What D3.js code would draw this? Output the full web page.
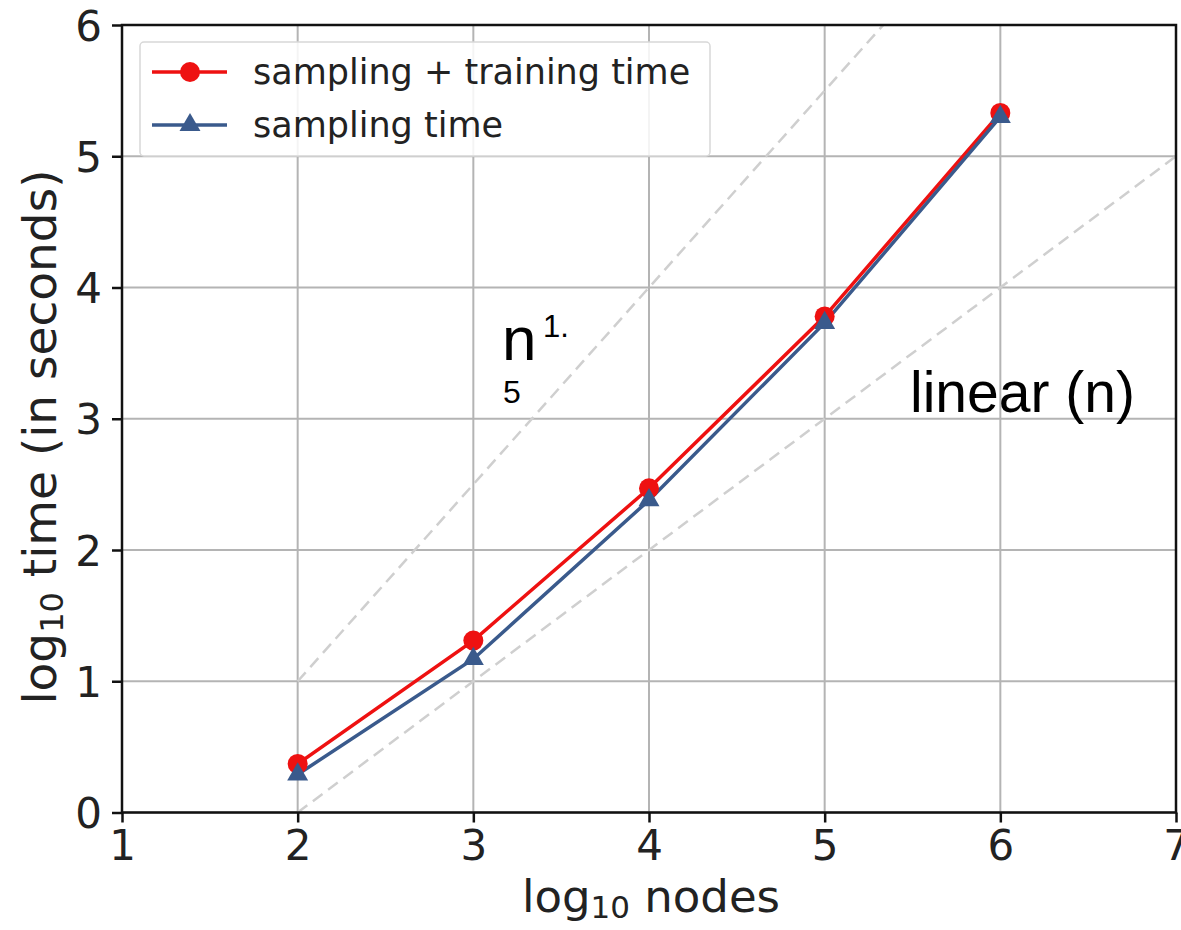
<!DOCTYPE html>
<html>
<head>
<meta charset="utf-8">
<script src="https://cdn.jsdelivr.net/npm/d3@7"></script>
<style>
  body { margin: 0; background: #fff; }
  svg { display: block; }
  .tick text { font-family: "DejaVu Sans", sans-serif; font-size: 42px; fill: #222; }
</style>
</head>
<body>
<div id="chart"></div>
<script>
// data
const nodes = [2, 3, 4, 5, 6];
const sampTrain = [0.37, 1.31, 2.47, 3.78, 5.33];
const sampOnly = [0.29, 1.17, 2.38, 3.73, 5.30];
const xTicks = [1, 2, 3, 4, 5, 6, 7];
const yTicks = [0, 1, 2, 3, 4, 5, 6];
// guide lines: n^1.5 and linear n
const guide15 = [[2, 1], [4, 4], [6, 7]];
const guideLin = [[2, 0], [7, 5]];

const W = 1181, H = 930;
const M = { left: 122, right: 1176, top: 25, bottom: 812.5 };

const svg = d3.select('#chart').append('svg')
  .attr('width', W).attr('height', H);

const x = d3.scaleLinear().domain([1, 7]).range([M.left, M.right]);
const y = d3.scaleLinear().domain([0, 6]).range([M.bottom, M.top]);

svg.append('clipPath').attr('id', 'clip')
  .append('rect')
  .attr('x', M.left).attr('y', M.top)
  .attr('width', M.right - M.left).attr('height', M.bottom - M.top);

// grid
const grid = svg.append('g');
grid.selectAll('.gx').data(xTicks).enter().append('line')
  .attr('x1', d => x(d)).attr('x2', d => x(d))
  .attr('y1', M.top).attr('y2', M.bottom)
  .attr('stroke', '#b4b4b4').attr('stroke-width', 2);
grid.selectAll('.gy').data(yTicks).enter().append('line')
  .attr('x1', M.left).attr('x2', M.right)
  .attr('y1', d => y(d)).attr('y2', d => y(d))
  .attr('stroke', '#b4b4b4').attr('stroke-width', 2);

// dashed guides
const line = d3.line().x(d => x(d[0])).y(d => y(d[1]));
const guides = svg.append('g').attr('clip-path', 'url(#clip)');
[guide15, guideLin].forEach(g => {
  guides.append('path').attr('d', line(g))
    .attr('fill', 'none').attr('stroke', '#cfcfcf')
    .attr('stroke-width', 2.5).attr('stroke-dasharray', '12,7');
});

// series
const RED = '#ee1111', BLUE = '#3a5a8c';
const pts = v => nodes.map((n, i) => [n, v[i]]);

svg.append('path').attr('d', line(pts(sampTrain)))
  .attr('fill', 'none').attr('stroke', RED).attr('stroke-width', 3.5);
svg.append('path').attr('d', line(pts(sampOnly)))
  .attr('fill', 'none').attr('stroke', BLUE).attr('stroke-width', 3.5);

const tri = d3.symbol().type(d3.symbolTriangle).size(190);
svg.selectAll('.m1').data(pts(sampTrain)).enter().append('circle')
  .attr('cx', d => x(d[0])).attr('cy', d => y(d[1])).attr('r', 10)
  .attr('fill', RED);
svg.selectAll('.m2').data(pts(sampOnly)).enter().append('path')
  .attr('d', tri)
  .attr('transform', d => 'translate(' + x(d[0]) + ',' + y(d[1]) + ')')
  .attr('fill', BLUE);

// axes
const xAxis = svg.append('g')
  .attr('transform', 'translate(0,' + M.bottom + ')')
  .call(d3.axisBottom(x).tickValues(xTicks).tickSize(10).tickPadding(8).tickFormat(d3.format('d')));
const yAxis = svg.append('g')
  .attr('transform', 'translate(' + M.left + ',0)')
  .call(d3.axisLeft(y).tickValues(yTicks).tickSize(10).tickPadding(10).tickFormat(d3.format('d')));
[xAxis, yAxis].forEach(a => {
  a.select('.domain').remove();
  a.selectAll('.tick line').attr('stroke', '#111').attr('stroke-width', 2.5);
});
yAxis.selectAll('.tick text').attr('dy', '0.36em');

// frame
svg.append('rect')
  .attr('x', M.left).attr('y', M.top)
  .attr('width', M.right - M.left).attr('height', M.bottom - M.top)
  .attr('fill', 'none').attr('stroke', '#111').attr('stroke-width', 2.5);

// axis labels
const xl = svg.append('text')
  .attr('x', 651).attr('y', 912)
  .attr('text-anchor', 'middle')
  .style('font-family', 'DejaVu Sans, sans-serif').style('font-size', '45px').attr('fill', '#222');
xl.append('tspan').text('log');
xl.append('tspan').text('10').style('font-size', '31px').attr('dy', 6);
xl.append('tspan').text(' nodes').attr('dy', -6);

const yl = svg.append('text')
  .attr('transform', 'translate(56,437) rotate(-90)')
  .attr('text-anchor', 'middle')
  .style('font-family', 'DejaVu Sans, sans-serif').style('font-size', '47px').attr('fill', '#222');
yl.append('tspan').text('log');
yl.append('tspan').text('10').style('font-size', '32px').attr('dy', 7);
yl.append('tspan').text(' time (in seconds)').attr('dy', -7);

// legend
const lg = svg.append('g');
lg.append('rect')
  .attr('x', 140).attr('y', 42).attr('width', 570).attr('height', 114).attr('rx', 4)
  .attr('fill', 'rgba(255,255,255,0.85)').attr('stroke', '#d8d8d8').attr('stroke-width', 1.5);
const legendItems = [
  { label: 'sampling + training time', color: RED, shape: 'circle' },
  { label: 'sampling time', color: BLUE, shape: 'tri' }
];
legendItems.forEach((it, i) => {
  const cy = 72 + i * 53;
  lg.append('line').attr('x1', 152).attr('x2', 227).attr('y1', cy).attr('y2', cy)
    .attr('stroke', it.color).attr('stroke-width', 3.5);
  if (it.shape === 'circle') {
    lg.append('circle').attr('cx', 190).attr('cy', cy).attr('r', 10).attr('fill', it.color);
  } else {
    lg.append('path').attr('d', tri).attr('transform', 'translate(190,' + cy + ')').attr('fill', it.color);
  }
  lg.append('text').attr('x', 253).attr('y', cy + 12)
    .style('font-family', 'DejaVu Sans, sans-serif').style('font-size', '35px').attr('fill', '#222')
    .text(it.label);
});

// annotations
const fam = 'Liberation Sans, Arial, sans-serif';
svg.append('text').attr('x', 502).attr('y', 360)
  .style('font-family', fam).style('font-size', '62px').attr('fill', '#000').text('n');
svg.append('text').attr('x', 543).attr('y', 337)
  .style('font-family', fam).style('font-size', '31px').attr('fill', '#000').text('1.');
svg.append('text').attr('x', 503).attr('y', 403)
  .style('font-family', fam).style('font-size', '32px').attr('fill', '#000').text('5');
svg.append('text').attr('x', 910).attr('y', 412)
  .style('font-family', fam).style('font-size', '57px').attr('fill', '#000').text('linear (n)');
</script>
</body>
</html>
